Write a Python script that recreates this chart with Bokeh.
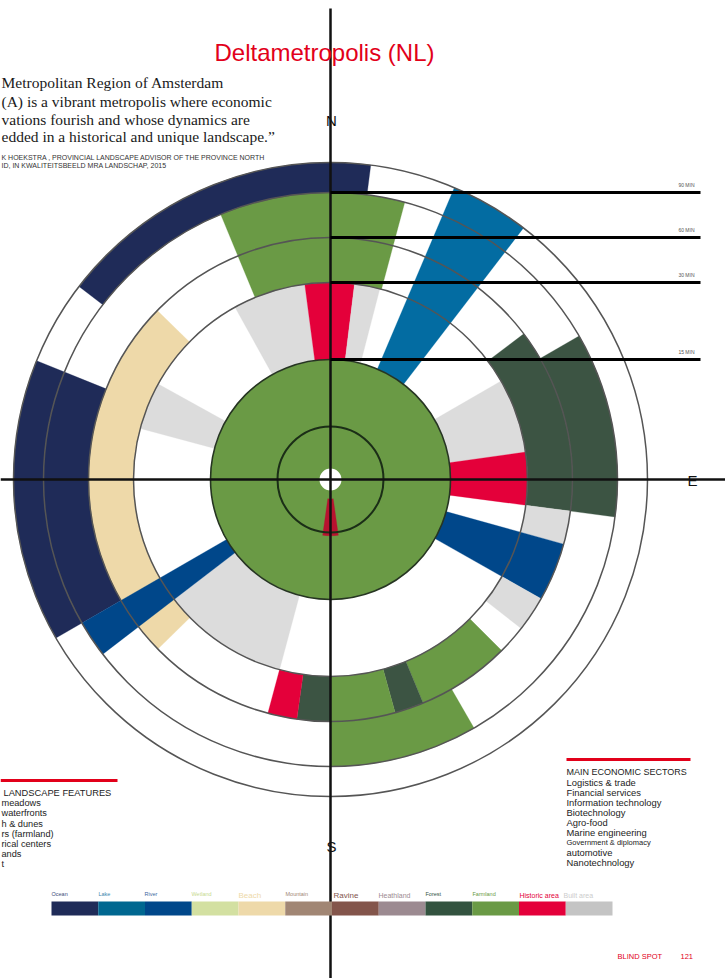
import numpy as np
from bokeh.plotting import figure
from bokeh.models import ColumnDataSource, Range1d
from bokeh.core.properties import value
from bokeh.embed import file_html
from bokeh.resources import INLINE

# ---------------- data ----------------
title = "Deltametropolis (NL)"
quote_lines = [
    "Metropolitan Region of Amsterdam",
    "(A) is a vibrant metropolis where economic",
    "vations fourish and whose dynamics are",
    "edded in a historical and unique landscape.\u201d",
]
source_lines = [
    "K HOEKSTRA , PROVINCIAL LANDSCAPE ADVISOR OF THE PROVINCE NORTH",
    "ID, IN KWALITEITSBEELD MRA LANDSCHAP, 2015",
]

categories = ["Ocean", "Lake", "River", "Wetland", "Beach", "Mountain", "Ravine",
              "Heathland", "Forest", "Farmland", "Historic area", "Built area"]

# landscape segments: bearing (deg clockwise from N) and travel-time band (minutes)
seg_from = [331, 352.5, 367, 60, 82, 195, 285,
            337.5, 53, 60, 97.5, 105.5, 119.5, 135, 157.5, 164.5, 180, 188, 225.5,
            150, 240, 307.5, 23, 232.5, 172]
seg_to = [352.5, 367, 374.5, 82, 97.5, 232.5, 299,
          375, 97.5, 97.5, 105.5, 119.5, 128, 157.5, 164.5, 180, 188, 195, 314.3,
          180, 292, 367.3, 37.5, 240, 188]
seg_tmin = [15, 15, 15, 15, 15, 15, 15,
            30, 30, 60, 30, 15, 30, 30, 30, 30, 30, 30, 30,
            60, 60, 90, 15, 15, 1]
seg_tmax = [30, 30, 30, 30, 30, 30, 30,
            90, 60, 90, 60, 60, 60, 60, 60, 60, 60, 60, 60,
            90, 120, 120, 120, 90, 5.5]
seg_type = ["Built area", "Historic area", "Built area", "Built area", "Historic area",
            "Built area", "Built area",
            "Farmland", "Forest", "Forest", "Built area", "River", "Built area",
            "Farmland", "Forest", "Farmland", "Forest", "Historic area", "Beach",
            "Farmland", "Ocean", "Ocean", "Lake", "River", "Historic area"]

core_type = "Farmland"
core_tmin, core_tmax = 0, 15

ring_minutes = [5, 15, 30, 60, 90, 120]
time_marks = [15, 30, 60, 90]
time_labels = ["15 MIN", "30 MIN", "60 MIN", "90 MIN"]

compass_labels = ["N", "E", "S"]

landscape_header = "LANDSCAPE FEATURES"
landscape_items = ["meadows", "waterfronts", "h & dunes", "rs  (farmland)",
                   "rical centers", "ands", "t"]
sector_header = "MAIN ECONOMIC SECTORS"
sector_items = ["Logistics & trade", "Financial  services", "Information  technology",
                "Biotechnology", "Agro-food", "Marine  engineering",
                "Government & diplomacy", "automotive", "Nanotechnology"]
footer = ["BLIND  SPOT", "121"]

# ---------------- styles ----------------
legend_colors = {"Ocean": "#1f2b58", "Lake": "#006790", "River": "#00478a",
                 "Wetland": "#d3e0a1", "Beach": "#eed9a9", "Mountain": "#a18674",
                 "Ravine": "#83554b", "Heathland": "#9c8a91", "Forest": "#33533f",
                 "Farmland": "#6a9a45", "Historic area": "#e4003a", "Built area": "#c4c4c4"}
chart_colors = dict(legend_colors)
chart_colors.update({"Built area": "#dcdcdc", "Lake": "#036ca2", "Forest": "#3c5443"})
label_colors = dict(legend_colors)
label_colors.update({"Wetland": "#c6d98f", "Built area": "#cccccc", "Ocean": "#3b4a78",
                     "Lake": "#3b86ad", "River": "#3a66a0"})
label_sizes = {"Beach": "8px", "Ravine": "8px", "Heathland": "7px",
               "Historic area": "7px", "Built area": "7px"}

SANS = value("Liberation Sans")
SERIF = value("Liberation Serif")
RED = "#e2001a"

CX, CY = 330, 479  # screen position of the centre


def X(sx):
    return sx - CX


def Y(sy):
    return CY - sy


knots_min = [0, 5, 15, 30, 60, 90, 120]
knots_px = [11, 53, 120, 197, 242, 287, 317]


def rad(m):
    return np.interp(m, knots_min, knots_px)


W, H = 725, 978
p = figure(width=W, height=H, x_range=Range1d(X(0), X(W)), y_range=Range1d(Y(H), Y(0)),
           output_backend="svg", toolbar_location=None, min_border=0)
p.axis.visible = False
p.grid.visible = False
p.outline_line_color = None
p.background_fill_color = "white"

# core disc
p.annulus(x=[0], y=[0], inner_radius=[rad(core_tmin)], outer_radius=[rad(core_tmax)],
          fill_color=chart_colors[core_type], line_color=None)

# wedges
seg_colors = [chart_colors[t] for t in seg_type]
seg_colors[-1] = "#b8122f"  # the small centre spike reads darker over the farmland
src = ColumnDataSource(dict(
    ri=rad(np.array(seg_tmin, float)),
    ro=rad(np.array(seg_tmax, float)),
    sa=np.radians(90 - np.array(seg_to, float)),
    ea=np.radians(90 - np.array(seg_from, float)),
    color=seg_colors,
))
p.annular_wedge(x=0, y=0, inner_radius="ri", outer_radius="ro", start_angle="sa",
                end_angle="ea", direction="anticlock", fill_color="color",
                line_color="color", line_width=0.3, source=src)

# rings
ring_r = [rad(m) for m in ring_minutes]
ring_col = ["#1b2e17", "#263522", "#555555", "#555555", "#555555", "#555555"]
ring_w = [2, 1.6, 1.5, 1.5, 1.5, 1.5]
for r, c, w in zip(ring_r, ring_col, ring_w):
    p.circle(x=[0], y=[0], radius=[r], fill_color=None, line_color=c, line_width=w)

# axes cross
p.segment(x0=[X(330), X(0)], y0=[Y(8), Y(479)], x1=[X(330), X(725)], y1=[Y(980), Y(479)],
          line_color="#111111", line_width=2.5)

# travel time lines
tr = [rad(m) for m in time_marks]
p.segment(x0=[0] * 4, y0=tr, x1=[X(700)] * 4, y1=tr, line_color="#000000", line_width=3)
p.text(x=[X(694)] * 4, y=[r + 8 for r in tr], text=time_labels, text_font=SANS,
       text_font_size="5px", text_color="#555555", text_align="right", text_baseline="middle")

# compass letters
p.text(x=[X(331), X(692), X(331)], y=[Y(120), Y(480), Y(846)], text=compass_labels,
       text_font=SANS, text_font_size="15px", text_color="#111111",
       text_align="center", text_baseline="middle")

# title
p.text(x=[X(324)], y=[Y(52)], text=[title], text_font=SANS, text_font_size="24px",
       text_color=RED, text_align="center", text_baseline="middle")

# quote
p.text(x=[X(1)] * 4, y=[Y(82), Y(101), Y(119), Y(136)], text=quote_lines, text_font=SERIF,
       text_font_size="15.5px", text_color="#1a1a1a", text_align="left", text_baseline="middle")
p.text(x=[X(1)] * 2, y=[Y(157), Y(165)], text=source_lines, text_font=SANS,
       text_font_size="7px", text_color="#333333", text_align="left", text_baseline="middle")

# landscape list (left)
p.segment(x0=[X(0)], y0=[Y(780)], x1=[X(117)], y1=[Y(780)], line_color=RED, line_width=3)
p.text(x=[X(3)], y=[Y(792)], text=[landscape_header], text_font=SANS, text_font_size="9.3px",
       text_color="#222222", text_align="left", text_baseline="middle")
ly = [802, 812, 823, 833, 843, 853, 863]
p.text(x=[X(1)] * len(landscape_items), y=[Y(v) for v in ly], text=landscape_items,
       text_font=SANS, text_font_size="9.2px", text_color="#222222",
       text_align="left", text_baseline="middle")

# sector list (right)
p.segment(x0=[X(566)], y0=[Y(759)], x1=[X(690)], y1=[Y(759)], line_color=RED, line_width=3)
p.text(x=[X(566)], y=[Y(771)], text=[sector_header], text_font=SANS, text_font_size="9px",
       text_color="#222222", text_align="left", text_baseline="middle")
sy_list = [782, 792, 802, 812, 822, 832, 842, 852, 862]
sizes = ["9.4px"] * len(sector_items)
sizes[6] = "7.5px"
p.text(x=[X(566)] * len(sector_items), y=[Y(v) for v in sy_list], text=sector_items,
       text_font=SANS, text_font_size=sizes, text_color="#222222",
       text_align="left", text_baseline="middle")

# colour legend
sw_w = (612 - 51) / len(categories)
lx0 = [51 + i * sw_w for i in range(len(categories))]
p.quad(left=[X(v) for v in lx0], right=[X(v + sw_w) for v in lx0],
       top=[Y(901)] * len(categories), bottom=[Y(915)] * len(categories),
       fill_color=[legend_colors[c] for c in categories], line_color=None)
lab_x = [51, 98, 144, 191, 238, 285, 333, 378, 425, 472, 519, 563]
p.text(x=[X(v) for v in lab_x],
       y=[Y(895) if c in label_sizes else Y(893) for c in categories],
       text=categories, text_font=SANS,
       text_font_size=[label_sizes.get(c, "5.5px") for c in categories],
       text_color=[label_colors[c] for c in categories],
       text_align="left", text_baseline="middle")

# footer
p.text(x=[X(617), X(680)], y=[Y(956), Y(956)], text=footer, text_font=SANS,
       text_font_size="7.5px", text_color=RED, text_align="left", text_baseline="middle")

open("out.html", "w").write(file_html(p, INLINE))
